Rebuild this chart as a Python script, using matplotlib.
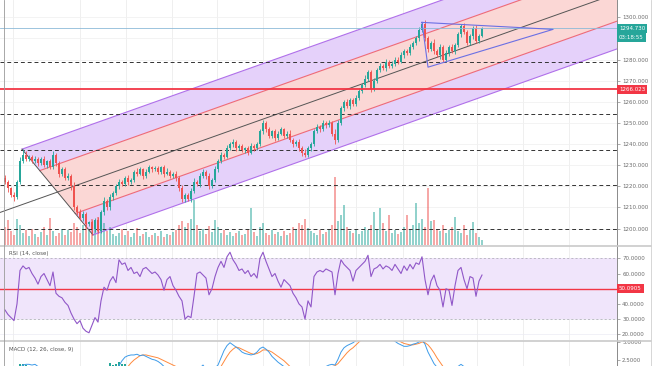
import matplotlib
matplotlib.use('Agg')
import matplotlib.pyplot as plt
from matplotlib.lines import Line2D
from matplotlib.transforms import blended_transform_factory
import numpy as np

plt.rcParams['font.family'] = ['DejaVu Sans']

# ---- data ----
first_open = 1224.0
close = [1222, 1219, 1216, 1215, 1222, 1232, 1235, 1233, 1234, 1232,
         1233, 1231, 1233, 1230, 1232, 1229, 1235, 1231, 1226, 1228,
         1224, 1225, 1220, 1210, 1208, 1205, 1207, 1202, 1203, 1200,
         1204, 1199, 1208, 1213, 1210, 1215, 1217, 1220, 1222, 1221,
         1224, 1222, 1223, 1227, 1226, 1228, 1225, 1227, 1229, 1228,
         1228.5, 1227, 1229, 1226, 1227, 1225, 1226, 1224, 1219, 1214,
         1216, 1214, 1218, 1222, 1221, 1225, 1227, 1225, 1220, 1223,
         1228, 1232, 1235, 1234, 1238, 1240, 1241, 1238, 1239, 1237,
         1238, 1236, 1239, 1238, 1240, 1246, 1250, 1247, 1244, 1246,
         1243, 1245, 1247, 1244, 1245, 1242, 1240, 1241, 1238, 1236,
         1235, 1238, 1240, 1246, 1248, 1247, 1250, 1249, 1250, 1245,
         1242, 1250, 1257, 1260, 1258, 1261, 1259, 1262, 1265, 1268,
         1271, 1274, 1266, 1270, 1275, 1277, 1276, 1279, 1277, 1278,
         1280, 1279, 1282, 1284, 1283, 1286, 1288, 1290, 1294, 1297,
         1290, 1285, 1288, 1284, 1282, 1286, 1280, 1283, 1286, 1284,
         1287, 1292, 1296, 1293, 1288, 1291, 1295, 1289, 1291, 1294.73]
wick_up = [1.5, 1.0, 0.8, 1.2, 1.0, 2.0, 2.5, 1.5, 0.8, 1.0,
           1.2, 0.8, 1.0, 1.5, 0.7, 1.0, 1.5, 1.0, 0.8, 1.2,
           1.0, 1.5, 1.0, 2.0, 1.0, 1.2, 1.5, 1.0, 0.8, 1.0,
           1.2, 1.5, 1.0, 2.0, 1.0, 1.2, 0.8, 1.0, 1.5, 1.0,
           0.8, 1.2, 1.0, 0.8, 1.5, 1.0, 0.8, 1.2, 1.0, 0.8,
           1.0, 1.2, 0.8, 1.0, 1.5, 0.8, 1.0, 1.2, 1.0, 1.5,
           1.0, 0.8, 1.2, 2.0, 1.0, 1.5, 1.0, 0.8, 1.2, 1.0,
           1.5, 1.0, 1.2, 0.8, 1.5, 1.0, 1.5, 0.8, 1.0, 1.2,
           0.8, 1.0, 1.5, 1.0, 0.8, 1.2, 1.5, 1.0, 1.2, 0.8,
           1.0, 1.2, 1.0, 0.8, 1.0, 1.5, 1.0, 0.8, 1.2, 1.0,
           1.5, 1.0, 1.2, 1.0, 1.5, 0.8, 1.2, 1.0, 1.5, 1.0,
           2.0, 1.5, 1.2, 1.0, 1.5, 1.0, 0.8, 1.2, 1.5, 1.0,
           1.5, 1.2, 1.0, 1.5, 1.0, 1.2, 0.8, 1.5, 1.0, 1.2,
           1.0, 1.2, 1.5, 1.0, 1.2, 1.5, 1.0, 1.2, 1.5, 0.6,
           1.5, 1.2, 1.0, 1.5, 1.0, 1.2, 1.0, 1.5, 1.0, 1.2,
           1.0, 1.2, 1.0, 1.5, 1.0, 1.2, 1.0, 1.5, 1.0, 0.5]
wick_dn = [1.0, 1.5, 1.2, 2.0, 1.0, 0.8, 1.0, 1.2, 0.8, 1.0,
           0.8, 1.2, 1.0, 0.8, 1.5, 1.0, 0.8, 1.2, 1.5, 1.0,
           1.2, 1.0, 1.5, 1.2, 1.5, 1.0, 1.2, 1.5, 1.0, 3.0,
           1.5, 1.2, 1.0, 1.5, 1.2, 1.0, 1.5, 1.0, 1.2, 0.8,
           1.0, 1.2, 0.8, 1.0, 1.2, 0.8, 1.5, 1.0, 0.8, 1.2,
           0.8, 1.0, 1.2, 1.5, 0.8, 1.0, 1.2, 1.5, 1.0, 1.2,
           1.5, 1.0, 1.2, 1.0, 0.8, 1.2, 1.0, 1.5, 1.2, 1.0,
           0.8, 1.2, 1.0, 1.2, 0.8, 1.0, 1.2, 1.5, 1.0, 0.8,
           1.2, 1.0, 0.8, 1.2, 1.0, 0.8, 1.2, 1.5, 1.0, 1.2,
           1.5, 1.0, 0.8, 1.2, 1.0, 1.2, 1.5, 1.0, 1.2, 1.5,
           1.2, 1.0, 1.5, 1.0, 0.8, 1.2, 1.0, 1.5, 1.0, 1.2,
           2.0, 1.2, 1.0, 1.5, 1.0, 1.2, 1.0, 0.8, 1.2, 1.0,
           1.2, 1.0, 1.5, 1.0, 1.2, 0.8, 1.0, 1.2, 1.0, 0.8,
           1.2, 1.0, 0.8, 1.2, 1.0, 0.8, 1.2, 1.0, 1.2, 1.0,
           1.2, 1.5, 1.0, 1.2, 1.0, 1.5, 1.2, 1.0, 1.2, 1.0,
           1.2, 1.0, 1.5, 1.0, 1.2, 1.0, 1.5, 1.0, 1.2, 0.5]
volume = [18, 25, 14, 10, 26, 20, 12, 15, 9, 16,
          11, 8, 13, 18, 10, 27, 14, 9, 12, 16,
          10, 15, 13, 22, 18, 12, 20, 24, 15, 26,
          19, 28, 30, 22, 14, 18, 11, 9, 12, 16,
          10, 14, 8, 12, 17, 9, 11, 13, 8, 10,
          12, 9, 14, 8, 11, 10, 13, 15, 20, 24,
          18, 22, 26, 45, 20, 14, 16, 11, 19, 13,
          25, 18, 12, 15, 10, 13, 9, 12, 14, 10,
          11, 16, 37, 13, 9, 18, 22, 12, 10, 15,
          11, 13, 9, 14, 10, 12, 18, 15, 22, 20,
          26, 17, 14, 12, 10, 15, 11, 13, 16, 20,
          68, 24, 30, 40, 18, 14, 12, 16, 11, 14,
          18, 15, 20, 33, 16, 37, 22, 14, 30, 12,
          15, 11, 13, 18, 30, 16, 20, 42, 22, 26,
          18, 57, 24, 25, 16, 14, 20, 12, 15, 18,
          28, 14, 12, 20, 10, 15, 23, 12, 8, 5]
rsi = [36, 33, 31, 29, 40, 62, 65, 63, 64, 60,
       57, 53, 58, 60, 56, 52, 61, 47, 45, 44,
       41, 39, 34, 30, 27, 29, 24, 22, 21, 26,
       31, 28, 42, 51, 49, 55, 58, 54, 69, 66,
       67, 62, 64, 60, 61, 58, 63, 64, 62, 60,
       61, 59, 56, 49, 56, 58, 52, 49, 45, 42,
       30, 32, 31, 45, 60, 61, 59, 57, 46, 50,
       58, 64, 68, 64, 71, 74, 69, 66, 62, 63,
       60, 62, 58, 60, 57, 70, 74, 68, 63, 58,
       60, 55, 51, 56, 54, 52, 47, 44, 40, 38,
       30, 42, 38, 58, 61, 62, 61, 63, 62, 61,
       46, 60, 69, 66, 64, 62, 55, 62, 64, 66,
       68, 72, 58, 63, 64, 66, 63, 65, 64, 62,
       66, 63, 60, 65, 62, 66, 63, 67, 66, 71,
       56, 46, 55, 59, 52, 49, 38, 50, 49, 39,
       52, 62, 64, 56, 50, 58, 57, 45, 55, 59]
macd = [-0.4, -0.8, -1.2, -1.0, 0.8, 1.4, 1.8, 1.9, 1.9, 1.8,
        1.9, 1.6, 1.5, 1.4, 1.2, 1.0, 1.2, 0.9, 0.4, 0.0,
        -0.6, -1.2, -2.0, -3.2, -4.2, -4.8, -5.2, -5.6, -6.0, -6.2,
        -6.0, -6.1, -5.0, -3.8, -3.0, -1.8, -0.8, 0.4, 1.7, 2.4,
        2.9, 3.1, 3.2, 3.2, 3.3, 3.1, 3.2, 3.0, 2.8, 2.6,
        2.5, 2.3, 2.0, 1.6, 1.5, 1.4, 1.3, 1.0, 0.2, -0.8,
        -1.4, -1.6, -1.2, -0.2, 0.8, 1.4, 1.8, 1.2, 0.8, 1.0,
        1.4, 1.8, 2.8, 3.8, 4.5, 4.9, 4.6, 4.3, 4.0, 3.6,
        3.4, 3.3, 3.2, 3.3, 3.6, 4.1, 4.3, 4.0, 3.6, 3.0,
        2.6, 2.2, 1.9, 1.6, 1.2, 0.8, 0.2, -0.4, -1.0, -1.6,
        -2.2, -1.8, -1.4, -0.4, 0.4, 1.0, 1.4, 1.6, 1.8, 1.9,
        1.8, 2.6, 3.6, 4.2, 4.5, 4.7, 4.9, 5.2, 5.6, 6.0,
        6.4, 6.5, 6.0, 6.1, 6.3, 6.2, 6.0, 5.8, 5.6, 5.3,
        5.1, 4.8, 4.6, 4.4, 4.4, 4.5, 4.7, 4.8, 5.0, 5.3,
        4.7, 3.6, 2.8, 2.0, 1.5, 1.0, 0.4, 0.3, 0.6, 0.8,
        1.2, 1.6, 1.9, 1.6, 1.2, 1.3, 1.5, 1.2, 1.3, 1.5]
signal = [-0.2, -0.5, -0.8, -1.0, -0.8, -0.5, -0.2, 0.1, 0.5, 0.8,
          1.3, 1.4, 1.4, 1.4, 1.4, 1.3, 1.3, 1.2, 1.0, 0.8,
          0.5, 0.1, -0.3, -0.9, -1.5, -2.2, -2.8, -3.4, -3.9, -4.4,
          -4.7, -5.0, -5.0, -4.8, -4.4, -3.9, -2.6, -1.6, -0.5, 0.4,
          1.0, 1.6, 2.1, 2.5, 2.8, 3.1, 3.2, 3.2, 3.1, 3.0,
          2.9, 2.8, 2.6, 2.4, 2.2, 2.0, 1.8, 1.6, 1.3, 0.9,
          0.4, 0.0, -0.3, -0.3, -0.1, 0.3, 0.7, 0.9, 1.0, 1.0,
          1.2, 1.4, 1.6, 2.3, 3.0, 3.6, 4.0, 4.3, 4.2, 4.0,
          3.8, 3.6, 3.4, 3.3, 3.4, 3.6, 3.9, 3.9, 3.8, 3.6,
          3.3, 3.0, 2.7, 2.4, 2.0, 1.6, 1.2, 0.7, 0.2, -0.3,
          -0.8, -1.2, -1.4, -1.2, -0.8, -0.3, 0.2, 0.8, 1.3, 1.6,
          1.7, 2.0, 2.5, 3.0, 3.5, 3.9, 4.2, 4.6, 5.0, 5.4,
          5.8, 6.1, 6.1, 6.1, 6.2, 6.2, 6.1, 6.0, 5.9, 5.7,
          5.5, 5.3, 5.0, 4.8, 4.7, 4.6, 4.6, 4.7, 4.8, 5.0,
          4.9, 4.6, 4.1, 3.5, 2.8, 2.2, 1.6, 1.2, 0.9, 0.8,
          0.9, 1.0, 1.2, 1.3, 1.3, 1.3, 1.3, 1.3, 1.3, 1.4]

price_ticks = [1200, 1210, 1220, 1230, 1240, 1250, 1260, 1270, 1280, 1300]
dashed_levels = [1278.7, 1254.4, 1237.3, 1220.4, 1199.6]
red_level = 1266.023
last_price = 1294.730
countdown = '03:18:55'
rsi_ticks = [20, 30, 40, 60, 70]
rsi_value = 50.0905
macd_ticks = [2.5, 5.0]
fork_idx = [-20.0, 5.67, 29.33]
fork_price = [1198.4, 1237.6, 1197.0]
tri_idx = [139.0, 182.7, 141.0]
tri_price = [1297.6, 1294.3, 1276.4]
time_grid = [2.7, 25, 40.3, 55.7, 70.7, 86, 101.3, 117, 132.7, 157.3, 172.7, 188]

# ---- layout in screen pixels ----
W, H = 654, 366
def rect(x0, y0, x1, y1):
    return [x0 / W, 1 - y1 / H, (x1 - x0) / W, (y1 - y0) / H]

fig = plt.figure(figsize=(W / 100, H / 100), dpi=100, facecolor='white')
ax = fig.add_axes(rect(0, 0, 617, 245))
ax_rsi = fig.add_axes(rect(0, 246, 617, 340))
ax_macd = fig.add_axes(rect(0, 341, 617, 366))

UP, DN = '#26a69a', '#ef5350'
TXT = '#6b6b6b'
FS = 4.0
n = len(close)
idx = np.arange(n)
c = np.array(close, dtype=float)
o = np.array([first_open] + close[:-1], dtype=float)
hi = np.maximum(o, c) + np.array(wick_up)
lo = np.minimum(o, c) - np.array(wick_dn)
cols = np.where(c >= o, UP, DN)

for a in (ax, ax_rsi, ax_macd):
    a.set_xlim(-5 / 3, 204)
    a.set_xticks([])
    for s in ('top', 'left', 'bottom'):
        a.spines[s].set_visible(False)
    a.spines['right'].set_color('#8a8a8a')
    a.spines['right'].set_linewidth(0.7)
    a.yaxis.tick_right()
    a.tick_params(axis='y', length=2.2, width=0.5, color='#8a8a8a',
                  labelsize=FS, labelcolor=TXT, pad=1.5)
    for g in time_grid:
        a.axvline(g, color='#ececec', lw=0.6, zorder=0)

# ---- main pane ----
ax.set_ylim(1192.24, 1308.19)
ax.set_yticks(price_ticks)
ax.set_yticklabels([f'{t:.3f}' for t in price_ticks])
for p in range(1200, 1310, 10):
    ax.axhline(p, color='#f1f1f1', lw=0.6, zorder=0)

# pitchfork
A = np.array([fork_idx[0], fork_price[0]])
B = np.array([fork_idx[1], fork_price[1]])
C = np.array([fork_idx[2], fork_price[2]])
M = (B + C) / 2
slope = (M[1] - A[1]) / (M[0] - A[0])
x_end = 215.0
def far(P):
    return np.array([x_end, P[1] + slope * (x_end - P[0])])
Qu = M + 0.5 * (B - M)
Ql = M + 0.5 * (C - M)
LAV, PINK = '#e5d1fa', '#fbd7d5'
for poly, fc in ((( B, far(B), far(Qu), Qu), LAV),
                 ((Qu, far(Qu), far(Ql), Ql), PINK),
                 ((Ql, far(Ql), far(C), C), LAV)):
    pts = np.array(poly)
    ax.fill(pts[:, 0], pts[:, 1], color=fc, lw=0, zorder=1)
for P, col in ((B, '#b070ea'), (C, '#b070ea'), (Qu, '#ee6a78'), (Ql, '#ee6a78')):
    Q = far(P)
    ax.plot([P[0], Q[0]], [P[1], Q[1]], color=col, lw=0.8, zorder=3)
Me = far(M)
ax.plot([A[0], Me[0]], [A[1], Me[1]], color='#555555', lw=0.7, zorder=3)
ax.plot([B[0], C[0]], [B[1], C[1]], color='#555555', lw=0.7, zorder=3)

# horizontal levels
for lv in dashed_levels:
    ax.axhline(lv, color='#333333', lw=0.7, ls=(0, (4, 3)), zorder=3)
ax.axhline(last_price, color='#8dbad8', lw=0.6, zorder=6)
ax.axhline(red_level, color='#f23645', lw=1.3, zorder=6)

# volume (bottom part of the price pane)
vtr = blended_transform_factory(ax.transData, ax.transAxes)
vol_top = 245.0
ax.bar(idx, np.array(volume) / vol_top, width=0.7, bottom=0, color=cols,
       alpha=0.5, lw=0, transform=vtr, zorder=2)

# candles
ax.vlines(idx, lo, hi, colors=cols, lw=0.6, zorder=4)
body = np.maximum(np.abs(c - o), 0.3)
ax.bar(idx, body, bottom=np.minimum(o, c), width=0.7, color=cols, lw=0, zorder=5)

# triangle
tx = tri_idx + [tri_idx[0]]
ty = tri_price + [tri_price[0]]
ax.plot(tx, ty, color='#6b6fe4', lw=0.8, zorder=6)

# price scale boxes
ytr = ax.get_yaxis_transform()
box = dict(boxstyle='square,pad=0.35', ec='none')
ax.text(1.003, last_price, f'{last_price:.3f}', transform=ytr, ha='left', va='center',
        fontsize=FS, color='white', bbox=dict(box, fc=UP), clip_on=False, zorder=10)
ax.annotate(countdown, xy=(1.003, last_price), xycoords=ytr, xytext=(0, -6.3),
            textcoords='offset points', ha='left', va='center', fontsize=FS,
            color='white', bbox=dict(box, fc=UP), annotation_clip=False, zorder=10)
ax.text(1.003, red_level, f'{red_level:.3f}', transform=ytr, ha='left', va='center',
        fontsize=FS, color='white', bbox=dict(box, fc='#f23645'), clip_on=False, zorder=10)

# ---- RSI pane ----
ax_rsi.set_ylim(16.25, 78.1)
ax_rsi.set_yticks(rsi_ticks)
ax_rsi.set_yticklabels([f'{t:.4f}' for t in rsi_ticks])
for lv in range(20, 80, 10):
    ax_rsi.axhline(lv, color='#ececf4', lw=0.5, zorder=0)
ax_rsi.axhspan(30, 70, color='#f0e5fb', lw=0, zorder=0.5)
for lv in (30, 70):
    ax_rsi.axhline(lv, color='#a8a8b0', lw=0.5, ls=(0, (3, 3)), zorder=1)
ax_rsi.axhline(50, color='#f23645', lw=1.0, zorder=2)
ax_rsi.plot(idx, rsi, color='#9057c8', lw=0.8, zorder=3)
ax_rsi.text(9 / 617, 0.915, 'RSI (14, close)', transform=ax_rsi.transAxes,
            fontsize=FS, color='#555555', va='center', ha='left')
rtr = ax_rsi.get_yaxis_transform()
ax_rsi.text(1.003, rsi_value, f'{rsi_value:.4f}', transform=rtr, ha='left', va='center',
            fontsize=FS, color='white', bbox=dict(box, fc='#f23645'), clip_on=False, zorder=10)

# ---- MACD pane ----
ax_macd.set_ylim(1.667, 5.139)
ax_macd.set_yticks(macd_ticks)
ax_macd.set_yticklabels([f'{t:.4f}' for t in macd_ticks])
hist = np.array(macd) - np.array(signal)
ax_macd.bar(idx, hist, width=0.7, color=np.where(hist >= 0, UP, DN), lw=0, zorder=1)
ax_macd.plot(idx, signal, color='#ff8a3d', lw=0.7, zorder=2)
ax_macd.plot(idx, macd, color='#3d9be9', lw=0.7, zorder=3)
ax_macd.text(9 / 617, 0.68, 'MACD (12, 26, close, 9)', transform=ax_macd.transAxes,
             fontsize=FS, color='#555555', va='center', ha='left')

# pane separators and borders
for yy in (245.5, 340.5):
    fig.add_artist(Line2D([0, 651 / W], [1 - yy / H] * 2, color='#c9c9c9', lw=1.2))
fig.add_artist(Line2D([651 / W] * 2, [0, 1], color='#d0d0d0', lw=0.6))
fig.add_artist(Line2D([3.5 / W] * 2, [0, 1], color='#9a9a9a', lw=0.6))

fig.savefig('out.png', dpi=100, facecolor='white')
